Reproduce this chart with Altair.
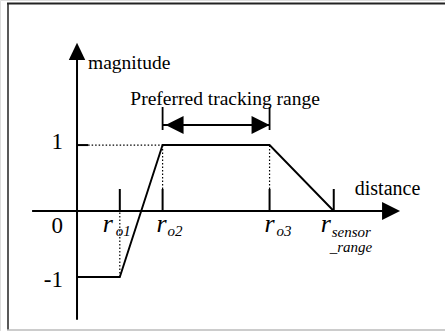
import altair as alt
import pandas as pd

# Characteristic points of the tracking-magnitude profile
curve_distance = [0, 1, 2, 4.5, 6]
curve_magnitude = [-1, -1, 1, 1, 0]

# Named distances marked along the distance axis
tick_names = ["o1", "o2", "o3", "sensor"]
tick_distance = [1, 2, 4.5, 6]

# Magnitude labels on the vertical axis
mag_labels = ["1", "0", "-1"]
mag_values = [1, 0, -1]

r_o1, r_o2, r_o3, r_sensor = tick_distance

FONT = "Liberation Serif"
X_DOM = [-1.8, 8.6]
Y_DOM = [-1.82, 3.2]
xs = alt.Scale(domain=X_DOM, nice=False, zero=False)
ys = alt.Scale(domain=Y_DOM, nice=False, zero=False)


def X(field="x"):
    return alt.X(f"{field}:Q", scale=xs, axis=None)


def Y(field="y"):
    return alt.Y(f"{field}:Q", scale=ys, axis=None)


def seg_df(rows):
    return pd.DataFrame(rows, columns=["x", "x2", "y", "y2"])


def segments(rows, **style):
    return alt.Chart(seg_df(rows)).mark_rule(color="black", **style).encode(
        x=X(), x2="x2:Q", y=Y(), y2="y2:Q"
    )


def arrowhead(x, y, path, size=324):
    return alt.Chart(pd.DataFrame({"x": [x], "y": [y]})).mark_point(
        shape=path, size=size, filled=True, color="black", opacity=1, strokeWidth=0
    ).encode(x=X(), y=Y())


def label(text, x, y, dx=0, dy=0, size=19.5, align="left", italic=False):
    return alt.Chart(pd.DataFrame({"x": [x], "y": [y], "t": [text]})).mark_text(
        font=FONT, fontSize=size, align=align, baseline="alphabetic",
        dx=dx, dy=dy, color="black", fontStyle="italic" if italic else "normal"
    ).encode(x=X(), y=Y(), text="t:N")


layers = []

# Outer frame
frame = pd.DataFrame({"a": [0]})
layers.append(alt.Chart(frame).mark_rule(color="#222", strokeWidth=2).encode(
    x=alt.value(7), x2=alt.value(445), y=alt.value(3.5)))
layers.append(alt.Chart(frame).mark_rule(color="#222", strokeWidth=1.5).encode(
    x=alt.value(8), y=alt.value(3), y2=alt.value(330)))
layers.append(alt.Chart(frame).mark_rule(color="#bbb", strokeWidth=1.5).encode(
    x=alt.value(7), x2=alt.value(445), y=alt.value(330)))

# Axes with arrowheads
layers.append(segments([[-1.05, 7.2, 0, 0], [0, 0, -1.65, 2.3]], strokeWidth=2))
layers.append(arrowhead(0, 2.42, "M0,-1L0.95,1L-0.95,1Z", size=300))
layers.append(arrowhead(7.34, 0, "M1,0L-1,-1L-1,1Z"))

# Distance ticks and the tick on the magnitude axis at 1
layers.append(segments([[d, d, 0, 0.334] for d in tick_distance] + [[0, 0.26, 1, 1]],
                       strokeWidth=2))

# Dotted guides
layers.append(segments([[0.26, r_o2, 1, 1], [r_o2, r_o2, 0.334, 1],
                        [r_o3, r_o3, 0.334, 1], [r_o1, r_o1, -1, 0]],
                       strokeWidth=1.2, strokeDash=[1.5, 2]))

# Magnitude profile
layers.append(alt.Chart(pd.DataFrame({"x": curve_distance, "y": curve_magnitude}))
              .mark_line(color="black", strokeWidth=1.9).encode(x=X(), y=Y(), order="x:Q"))

# Preferred tracking range double arrow
band_y = 1.304
layers.append(segments([[r_o2, r_o3, band_y, band_y],
                        [r_o2, r_o2, 1.228, 1.577], [r_o3, r_o3, 1.228, 1.577]],
                       strokeWidth=1.8))
layers.append(arrowhead(r_o2 + 0.28, band_y, "M-1,0L1,-1L1,1Z"))
layers.append(arrowhead(r_o3 - 0.21, band_y, "M1,0L-1,-1L-1,1Z"))

# Texts
layers.append(label("magnitude", 0, 2.153, dx=11))
layers.append(label("Preferred tracking range", (r_o2 + r_o3) / 2, 1.607, dx=9, align="center"))
layers.append(label("distance", r_sensor, 0.243, dx=21, size=20))

mag_dy = {"1": 4, "0": 22, "-1": 10}
for t, v in zip(mag_labels, mag_values):
    layers.append(label(t, 0, v, dx=-14, dy=mag_dy[t], size=23, align="right"))

r_dx = {"o1": -17, "o2": -6, "o3": -5, "sensor": -13}
sub_dx = {"o1": -4, "o2": 5, "o3": 7, "sensor": -2}
for name, d in zip(tick_names, tick_distance):
    layers.append(label("r", d, 0, dx=r_dx[name], dy=21, size=26, italic=True))
    layers.append(label(name, d, 0, dx=sub_dx[name], dy=25 if name != "sensor" else 26,
                        size=15, italic=True))
layers.append(label("_range", r_sensor, 0, dx=-4, dy=41, size=15, italic=True))

chart = alt.layer(*layers).properties(
    width=445, height=331, autosize=alt.AutoSizeParams(type="none"), padding=0
).configure_view(stroke=None).configure(background="white")

chart.save("out.html", embed_options={"renderer": "svg", "actions": False})
